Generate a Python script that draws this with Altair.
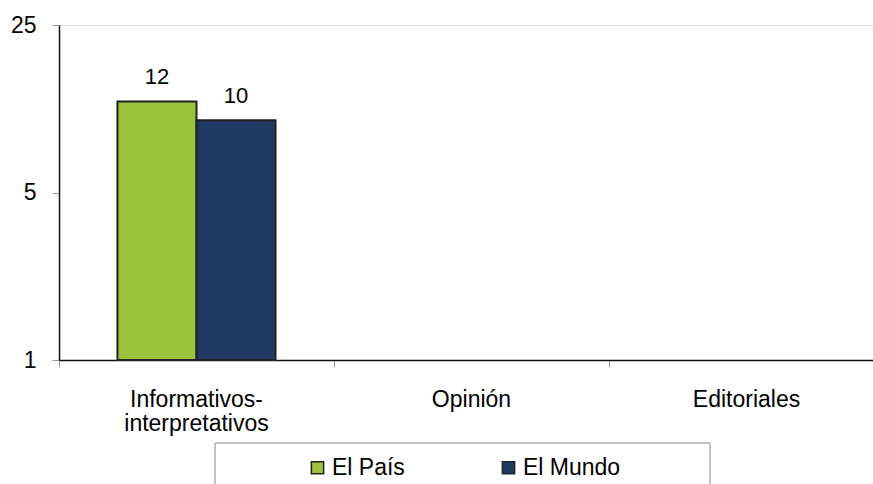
import altair as alt
import pandas as pd

categories = ["Informativos-interpretativos", "Opinión", "Editoriales"]
series = ["El País", "El Mundo"]
el_pais = [12, 0, 0]
el_mundo = [10, 0, 0]
colors = ["#9BC33C", "#203A64"]
y_ticks = [1, 5, 25]

rows = []
for i, c in enumerate(categories):
    rows.append({"cat": c, "serie": series[0], "value": el_pais[i]})
    rows.append({"cat": c, "serie": series[1], "value": el_mundo[i]})
df = pd.DataFrame(rows)

FONT = "Liberation Sans"

x = alt.X(
    "cat:N",
    sort=categories,
    scale=alt.Scale(domain=categories, range=[0, 825], paddingInner=0, paddingOuter=0),
    axis=alt.Axis(
        title=None,
        bandPosition=0,
        labelFontSize=23,
        labelFont=FONT,
        labelColor="black",
        labelAngle=0,
        labelPadding=21,
        labelLineHeight=24,
        labelExpr="datum.label == 'Informativos-interpretativos' ? ['Informativos-', 'interpretativos'] : datum.label",
        tickColor="#999999",
        tickSize=7,
        domainColor="#111111",
        domainWidth=1.5,
        grid=False,
    ),
)
xoff = alt.XOffset(
    "serie:N",
    sort=series,
    scale=alt.Scale(domain=series, paddingInner=0, paddingOuter=0.74),
)
y = alt.Y(
    "value:Q",
    scale=alt.Scale(type="log", base=5, domain=[1, 25]),
    axis=alt.Axis(
        title=None,
        values=y_ticks,
        format="d",
        labelFontSize=23,
        labelFont=FONT,
        labelColor="black",
        labelPadding=16,
        tickColor="#999999",
        tickSize=7,
        domainColor="#111111",
        domainWidth=1.5,
        grid=False,
    ),
)

frame = alt.Chart(pd.DataFrame({"a": [0]})).mark_rect(
    fill="white", stroke="#888888", strokeWidth=1
).encode(
    x=alt.value(156), x2=alt.value(651), y=alt.value(418), y2=alt.value(480)
)

base = alt.Chart(df).transform_filter("datum.value > 0")

bars = base.mark_bar(stroke="#222222", strokeWidth=2, opacity=1).encode(
    x=x,
    xOffset=xoff,
    y=y,
    y2=alt.datum(1),
    color=alt.Color(
        "serie:N",
        sort=series,
        scale=alt.Scale(domain=series, range=colors),
        legend=alt.Legend(
            orient="none",
            legendX=247,
            legendY=431,
            direction="horizontal",
            title=None,
            symbolType="square",
            symbolSize=150,
            symbolStrokeColor="#222222",
            symbolStrokeWidth=1.5,
            symbolOpacity=1,
            labelFontSize=23,
            labelFont=FONT,
            labelColor="black",
            labelOffset=3,
            columnPadding=92,
        ),
    ),
)

labels = base.mark_text(
    dy=-12, baseline="bottom", fontSize=22, font=FONT, color="black"
).encode(x=x, xOffset=xoff, y=y, text=alt.Text("value:Q", format="d"))

chart = (
    alt.layer(frame, bars, labels)
    .properties(
        width=814,
        height=335,
        autosize=alt.AutoSizeParams(type="none"),
        padding={"left": 59, "top": 25, "right": 0, "bottom": 124},
    )
    .configure_view(stroke=None)
    .configure(background="white")
)

chart.save("out.html", embed_options={"renderer": "svg", "actions": False})
